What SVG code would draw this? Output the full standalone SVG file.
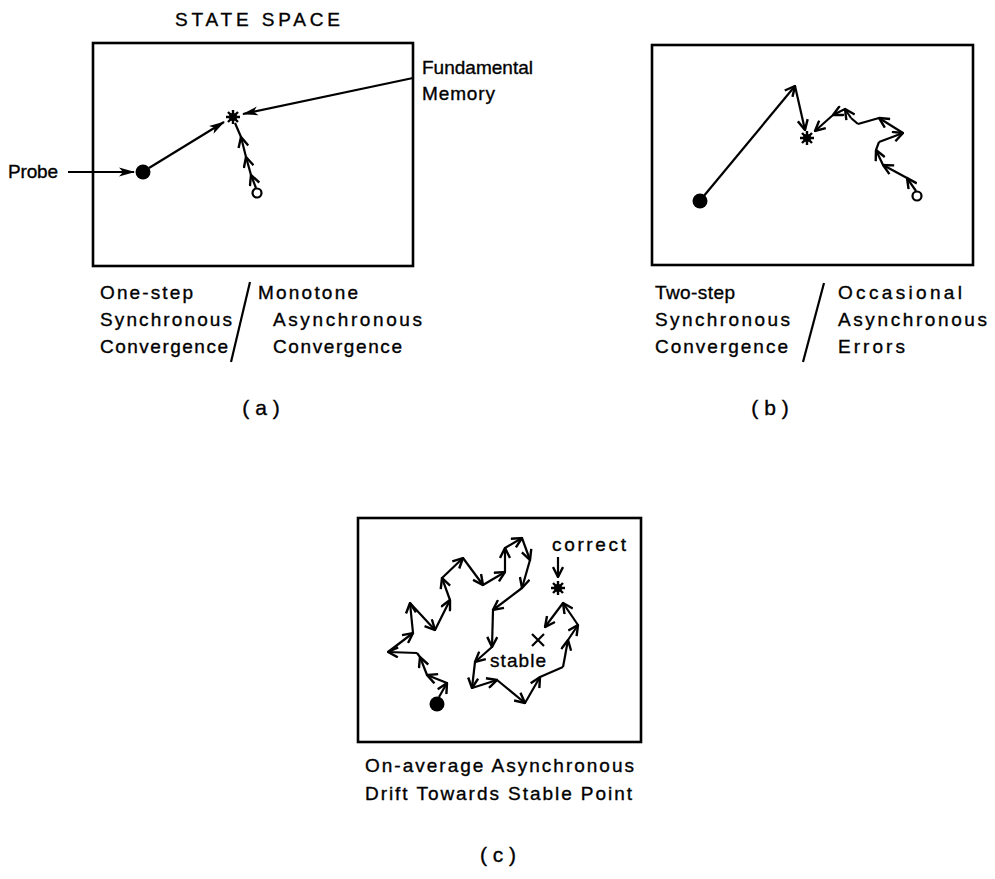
<svg xmlns="http://www.w3.org/2000/svg" width="995" height="879" viewBox="0 0 995 879">
<style>
text{font-family:"Liberation Sans","DejaVu Sans",sans-serif;fill:#000;stroke:#000;stroke-width:0.35;}
.cap{font-size:19px;}
.lbl{font-size:21px;}
.box{fill:none;stroke:#000;stroke-width:2.6;}
.ln{fill:none;stroke:#000;stroke-width:2.2;}
.ch{fill:none;stroke:#000;stroke-width:2.2;marker-end:url(#ah);}
.tr{fill:none;stroke:#000;stroke-width:2.2;marker-end:url(#tri);}
</style>
<defs>
<marker id="ah" viewBox="0 0 12 12" refX="11" refY="6" markerWidth="12" markerHeight="12" markerUnits="userSpaceOnUse" orient="auto">
<path d="M1,1 L11,6 L1,11" fill="none" stroke="#000" stroke-width="2.4"/>
</marker>
<marker id="tri" viewBox="0 0 16 10" refX="15" refY="5" markerWidth="16" markerHeight="10" markerUnits="userSpaceOnUse" orient="auto">
<path d="M0,0.5 L16,5 L0,9.5 L4,5 z" fill="#000"/>
</marker>
<g id="star">
<path d="M-7,0 L7,0 M0,-7 L0,7 M-5,-5 L5,5 M-5,5 L5,-5" stroke="#000" stroke-width="2.4"/>
<circle r="4" fill="#000"/>
</g>
</defs>
<rect width="995" height="879" fill="#fff"/>

<text class="cap" x="175" y="26" textLength="165" lengthAdjust="spacing">STATE SPACE</text>

<g id="panel-a">
<rect class="box" x="93" y="43" width="320" height="223"/>
<circle cx="143" cy="172" r="7.5" fill="#000"/>
<use href="#star" x="233" y="117"/>
<circle cx="257" cy="193" r="4.5" fill="none" stroke="#000" stroke-width="2.2"/>
<text class="cap" x="8" y="178" textLength="50" lengthAdjust="spacing">Probe</text>
<text class="cap" x="422" y="74" textLength="111" lengthAdjust="spacing">Fundamental</text>
<text class="cap" x="422" y="100" textLength="73" lengthAdjust="spacing">Memory</text>
<text class="cap" x="100" y="299" textLength="93" lengthAdjust="spacing">One-step</text>
<text class="cap" x="100" y="326" textLength="132" lengthAdjust="spacing">Synchronous</text>
<text class="cap" x="100" y="353" textLength="128" lengthAdjust="spacing">Convergence</text>
<text class="cap" x="258" y="299" textLength="100" lengthAdjust="spacing">Monotone</text>
<text class="cap" x="273" y="326" textLength="149" lengthAdjust="spacing">Asynchronous</text>
<text class="cap" x="273" y="353" textLength="129" lengthAdjust="spacing">Convergence</text>
<text class="lbl" x="261" y="415" text-anchor="middle">( a )</text>
</g>

<g id="panel-b">
<rect class="box" x="652" y="45" width="321" height="220"/>
<circle cx="700" cy="201" r="7.5" fill="#000"/>
<use href="#star" x="807" y="138"/>
<circle cx="917" cy="196" r="4.5" fill="none" stroke="#000" stroke-width="2.2"/>
<text class="cap" x="655" y="299" textLength="80" lengthAdjust="spacing">Two-step</text>
<text class="cap" x="655" y="326" textLength="135" lengthAdjust="spacing">Synchronous</text>
<text class="cap" x="655" y="353" textLength="133" lengthAdjust="spacing">Convergence</text>
<text class="cap" x="838" y="299" textLength="124" lengthAdjust="spacing">Occasional</text>
<text class="cap" x="838" y="326" textLength="149" lengthAdjust="spacing">Asynchronous</text>
<text class="cap" x="838" y="353" textLength="67" lengthAdjust="spacing">Errors</text>
<text class="lbl" x="770" y="415" text-anchor="middle">( b )</text>
</g>

<g id="panel-c">
<rect class="box" x="358" y="518" width="283" height="224"/>
<circle cx="437" cy="704" r="7.5" fill="#000"/>
<use href="#star" x="558" y="588"/>
<path d="M532,634 L544,646 M532,646 L544,634" stroke="#000" stroke-width="2.2"/>
<text class="cap" x="552" y="551" textLength="74" lengthAdjust="spacing">correct</text>
<text class="cap" x="490" y="667" textLength="56" lengthAdjust="spacing">stable</text>
<text class="cap" x="365" y="772" textLength="269" lengthAdjust="spacing">On-average Asynchronous</text>
<text class="cap" x="365" y="800" textLength="267" lengthAdjust="spacing">Drift Towards Stable Point</text>
<text class="lbl" x="498" y="862" text-anchor="middle">( c )</text>
</g>

<g id="connectors">
<!-- panel a -->
<line class="tr" x1="68" y1="172" x2="134" y2="172"/>
<line class="tr" x1="149" y1="168" x2="224" y2="122"/>
<line class="tr" x1="413" y1="78" x2="243" y2="114"/>
<line class="ch" x1="256" y1="188" x2="251" y2="175"/>
<line class="ch" x1="251" y1="175" x2="246" y2="157"/>
<line class="ch" x1="246" y1="157" x2="241" y2="137"/>
<line class="ln" x1="241" y1="137" x2="235" y2="123"/>
<line class="ln" x1="250" y1="282" x2="231" y2="362"/>
<!-- panel b -->
<line class="ch" x1="703" y1="197" x2="795" y2="86"/>
<line class="ch" x1="795" y1="86" x2="805" y2="130"/>
<line class="ch" x1="916" y1="191" x2="907" y2="178"/>
<line class="ch" x1="907" y1="178" x2="883" y2="165"/>
<line class="ch" x1="883" y1="165" x2="876" y2="150"/>
<line class="ln" x1="876" y1="150" x2="879" y2="142"/>
<line class="ch" x1="879" y1="142" x2="903" y2="133"/>
<line class="ch" x1="903" y1="133" x2="879" y2="118"/>
<line class="ln" x1="879" y1="118" x2="858" y2="124"/>
<line class="ln" x1="858" y1="124" x2="851" y2="118"/>
<line class="ch" x1="851" y1="118" x2="845" y2="109"/>
<line class="ch" x1="845" y1="109" x2="833" y2="115"/>
<line class="ch" x1="833" y1="115" x2="815" y2="131"/>
<line class="ln" x1="824" y1="283" x2="803" y2="362"/>
<!-- panel c -->
<line class="ch" x1="558" y1="557" x2="558" y2="577"/>
<line class="ch" x1="439" y1="697" x2="447" y2="683"/>
<line class="ch" x1="447" y1="683" x2="427" y2="675"/>
<line class="ch" x1="427" y1="675" x2="420" y2="657"/>
<line class="ln" x1="420" y1="657" x2="417" y2="653"/>
<line class="ch" x1="417" y1="653" x2="388" y2="652"/>
<line class="ch" x1="388" y1="652" x2="413" y2="633"/>
<line class="ch" x1="413" y1="633" x2="410" y2="603"/>
<line class="ch" x1="410" y1="603" x2="435" y2="630"/>
<line class="ch" x1="435" y1="630" x2="450" y2="600"/>
<line class="ch" x1="450" y1="600" x2="442" y2="578"/>
<line class="ch" x1="442" y1="578" x2="463" y2="558"/>
<line class="ch" x1="463" y1="558" x2="483" y2="585"/>
<line class="ch" x1="483" y1="585" x2="505" y2="572"/>
<line class="ch" x1="505" y1="572" x2="505" y2="548"/>
<line class="ch" x1="505" y1="548" x2="522" y2="538"/>
<line class="ch" x1="522" y1="538" x2="530" y2="560"/>
<line class="ch" x1="530" y1="560" x2="522" y2="588"/>
<line class="ch" x1="522" y1="588" x2="493" y2="610"/>
<line class="ch" x1="493" y1="610" x2="492" y2="647"/>
<line class="ch" x1="492" y1="647" x2="475" y2="662"/>
<line class="ch" x1="475" y1="662" x2="472" y2="688"/>
<line class="ch" x1="472" y1="688" x2="497" y2="680"/>
<line class="ch" x1="497" y1="680" x2="525" y2="703"/>
<line class="ch" x1="525" y1="703" x2="540" y2="677"/>
<line class="ln" x1="540" y1="677" x2="563" y2="667"/>
<line class="ch" x1="563" y1="667" x2="568" y2="640"/>
<line class="ch" x1="568" y1="640" x2="578" y2="625"/>
<line class="ch" x1="578" y1="625" x2="563" y2="603"/>
<line class="ch" x1="563" y1="603" x2="545" y2="627"/>
</g>
</svg>
